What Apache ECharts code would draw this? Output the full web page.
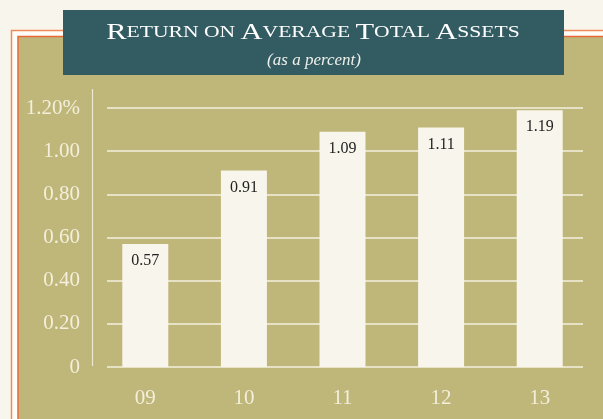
<!DOCTYPE html>
<html>
<head>
<meta charset="utf-8">
<script src="https://cdn.jsdelivr.net/npm/echarts@6/dist/echarts.min.js"></script>
<style>
  html, body { margin: 0; padding: 0; background: #f8f6ec; }
  #main { width: 603px; height: 419px; }
</style>
</head>
<body>
<div id="main"></div>
<script>
const years = ['09', '10', '11', '12', '13'];
const returns = [0.57, 0.91, 1.09, 1.11, 1.19];
const yTicks = ['0', '0.20', '0.40', '0.60', '0.80', '1.00', '1.20%'];

const chart = echarts.init(document.getElementById('main'));

const serif = '"Liberation Serif", "DejaVu Serif", serif';
const cream = '#f8f6ec';
const olive = '#bfb679';
const orange = '#e8683a';

const option = {
  backgroundColor: cream,
  animation: false,
  graphic: [
    // outer frame
    {
      type: 'rect', z: -10,
      shape: { x: 11.5, y: 30.5, width: 620, height: 420 },
      style: { fill: '#fffdf8', stroke: '#ef8a5a', lineWidth: 1.5 }
    },
    {
      type: 'rect', z: -9,
      shape: { x: 18, y: 36.5, width: 620, height: 420 },
      style: { fill: olive, stroke: orange, lineWidth: 1.5 }
    },
    // title box
    {
      type: 'rect', z: 10,
      shape: { x: 63, y: 10, width: 501, height: 65 },
      style: { fill: '#335b62' }
    },
    {
      type: 'text', z: 11,
      x: 313, y: 33,
      scaleX: 1.27,
      style: {
        text: '{b|R}{s|ETURN ON }{b|A}{s|VERAGE }{b|T}{s|OTAL }{b|A}{s|SSETS}',
        align: 'center', verticalAlign: 'middle',
        rich: {
          b: { fontFamily: serif, fontSize: 24, fill: '#ffffff' },
          s: { fontFamily: serif, fontSize: 17, fill: '#ffffff' }
        }
      }
    },
    {
      type: 'text', z: 11,
      x: 314, y: 61,
      style: {
        text: '(as a percent)',
        align: 'center', verticalAlign: 'middle',
        fontFamily: serif, fontStyle: 'italic', fontSize: 17, fill: '#eef0ea'
      }
    },
    // thin vertical axis line
    {
      type: 'line', z: 5,
      shape: { x1: 92.5, y1: 89, x2: 92.5, y2: 366 },
      style: { stroke: '#ece7cf', lineWidth: 1.2 }
    }
  ],
  grid: [
    { left: 107, right: 20, top: 108, bottom: 52 },
    { left: 96, width: 493, top: 108, bottom: 52 }
  ],
  xAxis: [
    {
      type: 'category', gridIndex: 0, data: years, show: false
    },
    {
      type: 'category', gridIndex: 1, data: years,
      axisLine: { show: false },
      axisTick: { show: false },
      axisLabel: {
        color: '#f3efdc', fontFamily: serif, fontSize: 21, margin: 21
      }
    }
  ],
  yAxis: [
    {
      type: 'value', gridIndex: 0, min: 0, max: 1.2, interval: 0.2,
      axisLine: { show: false },
      axisTick: { show: false },
      splitLine: { lineStyle: { color: '#f5f1e0', width: 1.5 } },
      axisLabel: {
        color: '#f3efdc', fontFamily: serif, fontSize: 21, margin: 27,
        formatter: function (v, i) { return yTicks[i]; }
      }
    },
    {
      type: 'value', gridIndex: 1, min: 0, max: 1.2, interval: 0.2,
      show: false
    }
  ],
  series: [
    {
      type: 'bar',
      xAxisIndex: 1, yAxisIndex: 1,
      data: returns,
      barWidth: 46,
      itemStyle: { color: cream },
      label: {
        show: true,
        position: 'insideTop',
        distance: 9,
        color: '#222',
        fontFamily: serif,
        fontSize: 16,
        formatter: function (p) { return p.value.toFixed(2); }
      },
      z: 3
    }
  ]
};

chart.setOption(option);
</script>
</body>
</html>
